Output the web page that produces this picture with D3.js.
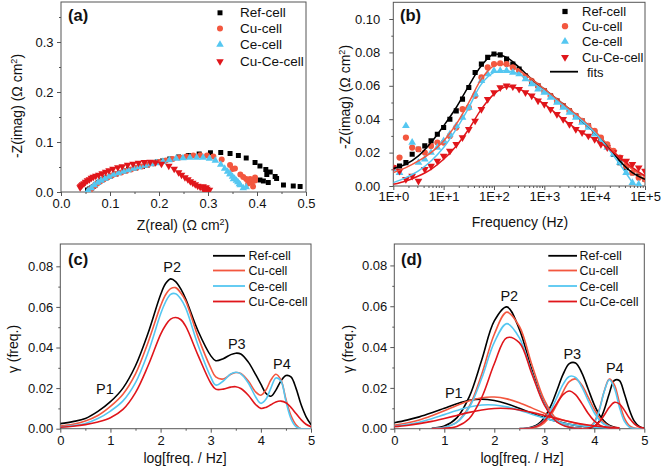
<!DOCTYPE html>
<html>
<head>
<meta charset="utf-8">
<script src="https://cdn.jsdelivr.net/npm/d3@7"></script>
<style>
  body { margin: 0; background: #fff; }
  svg { font-family: "Liberation Sans", Arial, sans-serif; }
</style>
</head>
<body>
<svg id="fig" width="661" height="472"></svg>
<script>
const names = ['Ref-cell', 'Cu-cell', 'Ce-cell', 'Cu-Ce-cell'];
const colors = ['#000000', '#f3573f', '#55c7f1', '#e0161b'];

// EIS data, 8 points per decade, index 0 = 1 Hz
const freqHz = [1, 1.33, 1.78, 2.37, 3.16, 4.22, 5.62, 7.5,
  10, 13.3, 17.8, 23.7, 31.6, 42.2, 56.2, 75,
  100, 133, 178, 237, 316, 422, 562, 750,
  1000, 1330, 1780, 2370, 3160, 4220, 5620, 7500,
  10000, 13300, 17800, 23700, 31600, 42200, 56200, 75000, 100000];

const refIm = [0.011, 0.012, 0.014, 0.019, 0.022, 0.024, 0.027, 0.031, 0.035, 0.040, 0.045, 0.052, 0.059, 0.068, 0.073, 0.077,
  0.079, 0.0785, 0.076, 0.073, 0.070, 0.066, 0.062, 0.060, 0.057, 0.054, 0.051, 0.048, 0.045, 0.042, 0.039, 0.036,
  0.032, 0.028, 0.024, 0.019, 0.014, 0.011, 0.008, 0.006, 0.004];
const cuIm = [0.011, 0.017, 0.029, 0.023, 0.022, 0.020, 0.024, 0.026, 0.026, 0.030, 0.035, 0.046, 0.047, 0.054, 0.065, 0.071,
  0.073, 0.0735, 0.073, 0.071, 0.069, 0.066, 0.063, 0.060, 0.057, 0.054, 0.051, 0.048, 0.045, 0.042, 0.039, 0.036,
  0.033, 0.029, 0.025, 0.021, 0.017, 0.012, 0.008, 0.005, 0.004];
const ceIm = [0.010, 0.008, 0.036, 0.026, 0.014, 0.016, 0.020, 0.023, 0.027, 0.031, 0.036, 0.041, 0.047, 0.055, 0.063, 0.067,
  0.069, 0.069, 0.069, 0.068, 0.067, 0.064, 0.061, 0.058, 0.056, 0.053, 0.050, 0.047, 0.044, 0.041, 0.038, 0.035,
  0.031, 0.027, 0.023, 0.019, 0.014, 0.008, 0.002, 0.001, null];
const cuceIm = [0.011, 0.009, 0.004, 0.006, 0.003, 0.010, 0.012, 0.015, 0.018, 0.021, 0.025, 0.029, 0.034, 0.039, 0.046, 0.052,
  0.056, 0.059, 0.060, 0.0595, 0.058, 0.056, 0.054, 0.051, 0.049, 0.046, 0.043, 0.040, 0.037, 0.034, 0.032, 0.030,
  0.028, 0.025, 0.023, 0.020, 0.017, 0.015, 0.013, 0.011, 0.009];

const refRe = [0.488, 0.474, 0.454, 0.423, 0.413, 0.406, 0.440, 0.437, 0.420, 0.427, 0.418, 0.406, 0.396, 0.378, 0.362, 0.345,
  0.326, 0.305, 0.282, 0.260, 0.240, 0.222, 0.207, 0.196, 0.185, 0.176, 0.166, 0.152, 0.138, 0.129, 0.120, 0.112,
  0.101, 0.091, 0.083, 0.076, 0.070, 0.066, 0.062, 0.058, 0.054];
const cuRe = [0.392, 0.382, 0.396, 0.396, 0.392, 0.389, 0.382, 0.386, 0.378, 0.372, 0.366, 0.350, 0.355, 0.345, 0.328, 0.311,
  0.298, 0.284, 0.270, 0.256, 0.242, 0.228, 0.214, 0.201, 0.189, 0.177, 0.165, 0.154, 0.143, 0.133, 0.123, 0.113,
  0.104, 0.095, 0.087, 0.080, 0.074, 0.068, 0.063, 0.060, 0.058];
const ceRe = [0.378, 0.372, 0.345, 0.352, 0.366, 0.364, 0.361, 0.358, 0.354, 0.350, 0.345, 0.340, 0.334, 0.326, 0.315, 0.303,
  0.290, 0.277, 0.263, 0.249, 0.235, 0.221, 0.208, 0.195, 0.183, 0.171, 0.159, 0.148, 0.137, 0.127, 0.117, 0.107,
  0.098, 0.090, 0.082, 0.075, 0.068, 0.062, 0.056, 0.054, null];
const cuceRe = [0.290, 0.296, 0.303, 0.298, 0.292, 0.284, 0.279, 0.274, 0.269, 0.264, 0.259, 0.253, 0.246, 0.240, 0.231, 0.220,
  0.205, 0.193, 0.182, 0.170, 0.158, 0.147, 0.136, 0.125, 0.116, 0.106, 0.098, 0.091, 0.084, 0.077, 0.071, 0.066,
  0.062, 0.058, 0.054, 0.050, 0.047, 0.044, 0.042, 0.040, 0.039];

// equivalent circuit fits, 4 points per decade
const fitHz = [1, 1.78, 3.16, 5.62, 10, 17.8, 31.6, 56.2, 100, 178, 316, 562, 1000, 1780, 3160, 5620, 10000, 17800, 31600, 56200, 100000];
const refFit = [0.0105, 0.013, 0.018, 0.026, 0.036, 0.047, 0.060, 0.072, 0.079, 0.077, 0.071, 0.064, 0.058, 0.052, 0.046, 0.039, 0.032, 0.024, 0.015, 0.008, 0.004];
const cuFit = [0.008, 0.011, 0.015, 0.020, 0.027, 0.037, 0.050, 0.064, 0.072, 0.0725, 0.069, 0.064, 0.058, 0.052, 0.046, 0.040, 0.033, 0.025, 0.017, 0.010, 0.006];
const ceFit = [0.002, 0.005, 0.009, 0.015, 0.023, 0.034, 0.047, 0.061, 0.068, 0.069, 0.067, 0.062, 0.057, 0.051, 0.045, 0.039, 0.032, 0.023, 0.013, 0.002, null];
const cuceFit = [0.001, 0.003, 0.006, 0.010, 0.016, 0.024, 0.034, 0.046, 0.055, 0.0595, 0.058, 0.054, 0.049, 0.043, 0.037, 0.032, 0.028, 0.023, 0.017, 0.011, 0.006];

// DRT curves, panel (c)
const drtX = [0, 0.25, 0.5, 0.75, 1, 1.25, 1.5, 1.75, 2, 2.1, 2.2, 2.3, 2.4, 2.5, 2.75, 3, 3.1, 3.25, 3.4, 3.5, 3.6, 3.75, 3.9, 4, 4.1, 4.2, 4.3, 4.4, 4.5, 4.6, 4.7, 4.8, 4.9, 5];
const refDrt = [0.0025, 0.0035, 0.005, 0.0085, 0.0133, 0.020, 0.031, 0.047, 0.066, 0.0715, 0.0738, 0.0725, 0.069, 0.064, 0.048, 0.036, 0.0335, 0.0345, 0.0365, 0.0372, 0.0368, 0.0328, 0.0265, 0.022, 0.0175, 0.016, 0.019, 0.0235, 0.0262, 0.0255, 0.020, 0.012, 0.006, 0.002];
const cuDrt = [0.0013, 0.0022, 0.0038, 0.0065, 0.011, 0.017, 0.027, 0.0425, 0.0605, 0.066, 0.069, 0.0695, 0.067, 0.063, 0.045, 0.030, 0.0255, 0.0245, 0.0268, 0.0277, 0.0272, 0.0235, 0.018, 0.0165, 0.019, 0.024, 0.0268, 0.024, 0.0145, 0.0065, 0.002, 0, 0, 0];
const ceDrt = [0.0008, 0.0015, 0.0026, 0.005, 0.0087, 0.0137, 0.0227, 0.0375, 0.0565, 0.0625, 0.0662, 0.0665, 0.064, 0.0595, 0.041, 0.0255, 0.0215, 0.0235, 0.027, 0.0278, 0.027, 0.0225, 0.0155, 0.0125, 0.0145, 0.020, 0.025, 0.0235, 0.0135, 0.005, 0.001, 0, 0, 0];
const cuceDrt = [0.0007, 0.0012, 0.002, 0.0033, 0.0054, 0.0095, 0.0178, 0.031, 0.0465, 0.051, 0.054, 0.0548, 0.0538, 0.0505, 0.036, 0.0225, 0.0195, 0.0195, 0.0205, 0.0207, 0.0198, 0.0165, 0.0118, 0.010, 0.0105, 0.0118, 0.0132, 0.0136, 0.0128, 0.0105, 0.0075, 0.0045, 0.0022, 0.001];

// peak deconvolution, panel (d)
const p1X = [0, 0.25, 0.5, 0.75, 1, 1.25, 1.5, 1.75, 2, 2.25, 2.5, 2.75, 3, 3.25, 3.5, 3.75, 4, 4.25, 4.5];
const refP1 = [0.0029, 0.0042, 0.0058, 0.0078, 0.0100, 0.0122, 0.0139, 0.0145, 0.0138, 0.0122, 0.0100, 0.0076, 0.0054, 0.0036, 0.0022, 0.0012, 0.0006, 0.0003, 0.0001];
const cuP1 = [0.0017, 0.0028, 0.0043, 0.0064, 0.0088, 0.0114, 0.0137, 0.0152, 0.0155, 0.0146, 0.0127, 0.0102, 0.0076, 0.0053, 0.0034, 0.0020, 0.0011, 0.0006, 0.0003];
const ceP1 = [0.0012, 0.0020, 0.0032, 0.0049, 0.0069, 0.0089, 0.0106, 0.0116, 0.0116, 0.0107, 0.0091, 0.0071, 0.0052, 0.0035, 0.0022, 0.0013, 0.0007, 0.0003, 0.0001];
const cuceP1 = [0.0010, 0.0016, 0.0025, 0.0036, 0.0050, 0.0065, 0.0080, 0.0092, 0.0099, 0.0099, 0.0092, 0.0080, 0.0065, 0.0049, 0.0035, 0.0023, 0.0014, 0.0008, 0.0004];

const p2X = [0.75, 1, 1.25, 1.5, 1.75, 2, 2.25, 2.5, 2.75, 3, 3.25, 3.5, 3.75];
const refP2 = [0.0002, 0.0013, 0.0053, 0.0157, 0.0338, 0.0528, 0.0597, 0.0488, 0.0289, 0.0124, 0.0039, 0.0009, 0.0001];
const cuP2 = [0.0001, 0.0007, 0.0032, 0.0110, 0.0268, 0.0463, 0.0571, 0.0502, 0.0315, 0.0141, 0.0045, 0.0010, 0.0002];
const ceP2 = [0.0001, 0.0007, 0.0031, 0.0104, 0.0248, 0.0423, 0.0515, 0.0446, 0.0276, 0.0122, 0.0038, 0.0009, 0.0001];
const cuceP2 = [0.0000, 0.0002, 0.0011, 0.0050, 0.0154, 0.0318, 0.0446, 0.0422, 0.0270, 0.0117, 0.0034, 0.0007, 0.0000];

const p3X = [2.5, 2.625, 2.75, 2.875, 3, 3.125, 3.25, 3.375, 3.5, 3.625, 3.75, 3.875, 4, 4.125, 4.25, 4.375, 4.5];
const refP3 = [0.0001, 0.0002, 0.0008, 0.0022, 0.0054, 0.0109, 0.0186, 0.0266, 0.0319, 0.0322, 0.0274, 0.0196, 0.0117, 0.0059, 0.0025, 0.0009, 0.0003];
const cuP3 = [0.0000, 0.0001, 0.0003, 0.0011, 0.0029, 0.0064, 0.0118, 0.0181, 0.0231, 0.0244, 0.0214, 0.0156, 0.0095, 0.0048, 0.0020, 0.0007, 0.0002];
const ceP3 = [0.0000, 0.0002, 0.0006, 0.0017, 0.0043, 0.0089, 0.0152, 0.0217, 0.0256, 0.0251, 0.0205, 0.0139, 0.0078, 0.0036, 0.0014, 0.0005, 0.0001];
const cuceP3 = [0.0000, 0.0001, 0.0005, 0.0015, 0.0038, 0.0076, 0.0124, 0.0167, 0.0185, 0.0167, 0.0124, 0.0076, 0.0038, 0.0015, 0.0005, 0.0001, 0.0000];

const p4X = [3.7, 3.8, 3.9, 4.0, 4.1, 4.2, 4.3, 4.4, 4.5, 4.6, 4.7, 4.8, 4.9, 5.0];
const refP4 = [0.0000, 0.0000, 0.0002, 0.0011, 0.0037, 0.0094, 0.0173, 0.0236, 0.0236, 0.0173, 0.0094, 0.0037, 0.0011, 0.0002];
const cuP4 = [0.0000, 0.0001, 0.0008, 0.0033, 0.0095, 0.0185, 0.0243, 0.0216, 0.0130, 0.0053, 0.0015, 0.0003, 0.0000, 0.0000];
const ceP4 = [0.0000, 0.0001, 0.0006, 0.0028, 0.0090, 0.0183, 0.0240, 0.0200, 0.0108, 0.0037, 0.0008, 0.0001, 0.0000, 0.0000];
const cuceP4 = [0.0000, 0.0001, 0.0004, 0.0013, 0.0033, 0.0067, 0.0105, 0.0129, 0.0122, 0.0091, 0.0052, 0.0024, 0.0008, 0.0002];

// peak labels in data units
const peakLabels = ['P1', 'P2', 'P3', 'P4'];
const peakPosC = [[0.89, 0.0171], [2.23, 0.0774], [3.52, 0.0395], [4.42, 0.0296]];
const peakPosD = [[1.19, 0.0152], [2.30, 0.0625], [3.56, 0.034], [4.41, 0.0274]];

const svg = d3.select('#fig');
const axisColor = '#555';
const symbolTypes = [d3.symbolSquare, d3.symbolCircle, d3.symbolTriangle, d3.symbolTriangle];
const symbolSize = [26, 30, 26, 26];
const symbolRot = [0, 0, 0, 180];

function zip(xs, ys) {
  return xs.map((x, i) => ({ x: x, y: ys[i] })).filter(d => d.x != null && d.y != null);
}

let clipCount = 0;
function panel(x, y, o) {
  const [x0, x1] = x.range(), [y0, y1] = y.range();
  const g = svg.append('g');
  const id = 'clip' + (clipCount++);
  g.append('clipPath').attr('id', id).append('rect')
    .attr('x', x0).attr('y', y1).attr('width', x1 - x0).attr('height', y0 - y1);

  const ax = g.append('g').attr('transform', `translate(0,${y0})`)
    .call(d3.axisBottom(x).tickValues(o.xTicks).tickFormat(o.xFmt).tickSize(4).tickPadding(o.xPad).tickSizeOuter(0));
  const ay = g.append('g').attr('transform', `translate(${x0},0)`)
    .call(d3.axisLeft(y).tickValues(o.yTicks).tickFormat(o.yFmt).tickSize(4).tickPadding(o.yPad).tickSizeOuter(0));
  const mx = g.append('g').attr('transform', `translate(0,${y0})`)
    .call(d3.axisBottom(x).tickValues(o.xMinor).tickFormat('').tickSize(2));
  const my = g.append('g').attr('transform', `translate(${x0},0)`)
    .call(d3.axisLeft(y).tickValues(o.yMinor).tickFormat('').tickSize(2));
  [ax, ay, mx, my].forEach(s => {
    s.select('.domain').remove();
    s.attr('font-size', 13).attr('font-family', null);
    s.selectAll('line').attr('stroke', axisColor);
    s.selectAll('text').attr('fill', '#111');
  });
  g.append('rect').attr('x', x0).attr('y', y1).attr('width', x1 - x0).attr('height', y0 - y1)
    .attr('fill', 'none').attr('stroke', axisColor).attr('stroke-width', 1);

  const plot = g.append('g').attr('clip-path', `url(#${id})`);
  return { g: g, plot: plot };
}

function title(g, x, y, rot, parts) {
  const t = g.append('text').attr('font-size', 14).attr('fill', '#111').attr('text-anchor', 'middle')
    .attr('transform', `translate(${x},${y}) rotate(${rot})`);
  parts.forEach(p => {
    const s = t.append('tspan').text(p.t);
    if (p.sup) s.attr('font-size', 9).attr('dy', -5.5);
    if (p.down) s.attr('dy', 5.5);
  });
}

function panelTag(g, x, y, s) {
  g.append('text').attr('x', x).attr('y', y).attr('font-size', 16.5).attr('font-weight', 'bold')
    .attr('fill', '#111').text(s);
}

function marker(sel, i, scale) {
  return sel.append('path')
    .attr('d', d3.symbol().type(symbolTypes[i]).size(symbolSize[i] * scale)())
    .attr('fill', colors[i]);
}

function symbolLegend(g, mx, tx, rows, scale, fs) {
  names.forEach((n, i) => {
    marker(g, i, scale).attr('transform', `translate(${mx},${rows[i] - 4.5}) rotate(${symbolRot[i]})`);
    g.append('text').attr('x', tx).attr('y', rows[i]).attr('font-size', fs).attr('fill', '#111').text(n);
  });
}

function lineLegend(g, lx0, lx1, tx, rows, fs) {
  names.forEach((n, i) => {
    g.append('line').attr('x1', lx0).attr('x2', lx1).attr('y1', rows[i] - 4.5).attr('y2', rows[i] - 4.5)
      .attr('stroke', colors[i]).attr('stroke-width', 1.8);
    g.append('text').attr('x', tx).attr('y', rows[i]).attr('font-size', fs).attr('fill', '#111').text(n);
  });
}

const fmt1 = d3.format('.1f'), fmt2 = d3.format('.2f'), fmt0 = d3.format('d');

// ---------- (a) Nyquist ----------
{
  const x = d3.scaleLinear().domain([0, 0.5]).range([61, 306]);
  const y = d3.scaleLinear().domain([0, 0.38]).range([192, 2]);
  const p = panel(x, y, {
    xTicks: d3.range(0, 0.51, 0.1), xFmt: fmt1, xPad: 2.5,
    yTicks: d3.range(0, 0.31, 0.1), yFmt: fmt1, yPad: 3.5,
    xMinor: d3.range(0.05, 0.5, 0.1), yMinor: d3.range(0.05, 0.38, 0.1)
  });
  const series = [zip(refRe, refIm), zip(cuRe, cuIm), zip(ceRe, ceIm), zip(cuceRe, cuceIm)];
  series.forEach((pts, i) => {
    pts.forEach(d => {
      marker(p.plot, i, 0.95).attr('transform', `translate(${x(d.x)},${y(d.y)}) rotate(${symbolRot[i]})`);
    });
  });
  symbolLegend(p.g, 220, 240, [17.3, 33, 49, 66], 0.95, 13.5);
  panelTag(p.g, 68, 21, '(a)');
  title(p.g, 183, 230, 0, [{ t: 'Z(real) (Ω cm' }, { t: '2', sup: true }, { t: ')', down: true }]);
  title(p.g, 22, 106, -90, [{ t: '-Z(imag) (Ω cm' }, { t: '2', sup: true }, { t: ')', down: true }]);
}

// ---------- (b) Bode imaginary ----------
{
  const x = d3.scaleLog().domain([1, 1e5]).range([393.3, 645]);
  const y = d3.scaleLinear().domain([0, 0.11]).range([186, 2.3]);
  const minor = [];
  for (let k = 0; k < 5; k++) for (let m = 2; m < 10; m++) minor.push(m * Math.pow(10, k));
  const p = panel(x, y, {
    xTicks: [1, 10, 100, 1000, 10000, 100000], xFmt: d => '1E+' + Math.round(Math.log10(d)), xPad: 1.5,
    yTicks: d3.range(0, 0.101, 0.02), yFmt: fmt2, yPad: 9,
    xMinor: minor, yMinor: d3.range(0.01, 0.1, 0.02)
  });
  const ims = [refIm, cuIm, ceIm, cuceIm];
  ims.forEach((im, i) => {
    zip(freqHz, im).forEach(d => {
      marker(p.plot, i, 1).attr('transform', `translate(${x(d.x)},${y(d.y)}) rotate(${symbolRot[i]})`);
    });
  });
  const fits = [refFit, cuFit, ceFit, cuceFit];
  const line = d3.line().x(d => x(d.x)).y(d => y(d.y)).curve(d3.curveCatmullRom);
  fits.forEach((f, i) => {
    p.plot.append('path').attr('d', line(zip(fitHz, f))).attr('fill', 'none')
      .attr('stroke', colors[i]).attr('stroke-width', 1.5);
  });
  symbolLegend(p.g, 565, 582, [16, 30.7, 46, 61.7], 1.05, 13);
  p.g.append('line').attr('x1', 550).attr('x2', 578).attr('y1', 71.7).attr('y2', 71.7)
    .attr('stroke', '#000').attr('stroke-width', 1.8);
  p.g.append('text').attr('x', 587).attr('y', 76.7).attr('font-size', 13).attr('fill', '#111').text('fits');
  panelTag(p.g, 400, 21, '(b)');
  title(p.g, 520, 227, 0, [{ t: 'Frequency (Hz)' }]);
  title(p.g, 350, 97, -90, [{ t: '-Z(imag) (Ω cm' }, { t: '2', sup: true }, { t: ')', down: true }]);
}

// ---------- (c) and (d) share the same frame ----------
function drtPanel(x, y, curves, pos, legendX, tag, tagX, titleX) {
  const p = panel(x, y, {
    xTicks: d3.range(0, 5.1, 1), xFmt: fmt0, xPad: 3,
    yTicks: d3.range(0, 0.081, 0.02), yFmt: fmt2, yPad: 3,
    xMinor: d3.range(0.5, 5, 1), yMinor: d3.range(0.01, 0.09, 0.02)
  });
  const line = d3.line().x(d => x(d.x)).y(d => y(d.y)).curve(d3.curveCatmullRom);
  curves.forEach(c => {
    p.plot.append('path').attr('d', line(zip(c.xs, c.ys))).attr('fill', 'none')
      .attr('stroke', colors[c.s]).attr('stroke-width', 1.6);
  });
  peakLabels.forEach((l, i) => {
    p.g.append('text').attr('x', x(pos[i][0])).attr('y', y(pos[i][1])).attr('text-anchor', 'middle')
      .attr('font-size', 14.5).attr('fill', '#111').text(l);
  });
  lineLegend(p.g, legendX[0], legendX[1], legendX[2], [260.3, 275, 290.5, 306], 12.5);
  panelTag(p.g, tagX, 265, tag);
  title(p.g, titleX[0], 463, 0, [{ t: 'log[freq. / Hz]' }]);
  title(p.g, titleX[1], 349, -90, [{ t: 'γ (freq.)' }]);
}

{
  const x = d3.scaleLinear().domain([0, 5]).range([60.3, 311]);
  const y = d3.scaleLinear().domain([0, 0.091]).range([428.7, 244]);
  const curves = [refDrt, cuDrt, ceDrt, cuceDrt].map((ys, s) => ({ xs: drtX, ys: ys, s: s }));
  drtPanel(x, y, curves, peakPosC, [213, 245, 248.5], '(c)', 68, [185, 18]);
}

{
  const x = d3.scaleLinear().domain([0, 5]).range([394.3, 644.3]);
  const y = d3.scaleLinear().domain([0, 0.0905]).range([428.7, 244]);
  const comps = [
    [refP1, refP2, refP3, refP4],
    [cuP1, cuP2, cuP3, cuP4],
    [ceP1, ceP2, ceP3, ceP4],
    [cuceP1, cuceP2, cuceP3, cuceP4]
  ];
  const xsets = [p1X, p2X, p3X, p4X];
  const curves = [];
  comps.forEach((set, s) => set.forEach((ys, k) => curves.push({ xs: xsets[k], ys: ys, s: s })));
  drtPanel(x, y, curves, peakPosD, [548.3, 577, 579.5], '(d)', 401, [522, 352.5]);
}
</script>
</body>
</html>
